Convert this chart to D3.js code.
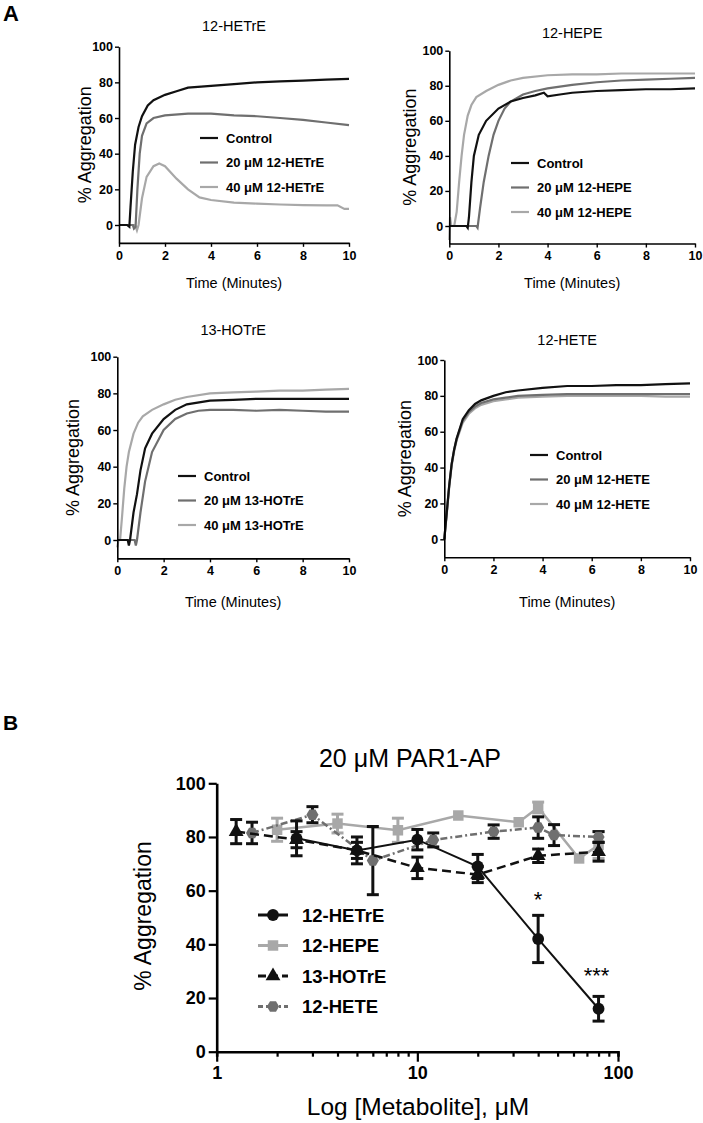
<!DOCTYPE html>
<html>
<head>
<meta charset="utf-8">
<script src="https://cdn.jsdelivr.net/npm/d3@7"></script>
<style>
  body { margin: 0; background: #fff; }
  text { font-family: "Liberation Sans", Arial, sans-serif; }
</style>
</head>
<body>
<script>
// ---- panel A: aggregation traces, [time (min), % aggregation] ----
var hetreControl = [[0,0],[0.35,0],[0.45,-1],[0.5,10],[0.6,30],[0.7,45],[0.85,55],[1,61],[1.25,67],[1.5,70],[2,73],[2.5,75],[3,77],[4,78],[5,79],[6,80],[7,80.5],[8,81],[9,81.5],[10,82]];
var hetre20 = [[0,0],[0.6,0],[0.65,-2],[0.72,-1],[0.8,20],[0.9,40],[1,50],[1.2,57],[1.5,60],[2,61.5],[3,62.5],[4,62.5],[5,61.5],[6,61],[7,60],[8,59],[9,57.5],[10,56]];
var hetre40 = [[0,0],[0.7,0],[0.78,-3],[0.85,0],[1,15],[1.2,27],[1.5,33],[1.75,34.5],[2,33],[2.5,26],[3,20],[3.5,15.5],[4,14],[5,12.5],[6,12],[7,11.5],[8,11.2],[9,11],[9.5,11],[9.8,9],[10,9]];

var hepeControl = [[0,0],[0.7,0],[0.75,-1],[0.8,5],[0.9,25],[1,40],[1.2,52],[1.5,60],[2,67],[2.5,71],[3,73],[3.5,74.5],[3.85,76],[4,74],[4.5,75],[5,76],[6,77],[7,77.5],[8,78],[9,78],[10,78.5]];
var hepe20 = [[0,0],[1.1,0],[1.15,-1],[1.25,10],[1.4,25],[1.6,40],[1.8,52],[2,60],[2.25,67],[2.5,71],[3,75],[3.5,77],[4,78.5],[5,80.5],[6,82],[7,83],[8,83.5],[9,84],[10,84.5]];
var hepe40 = [[0,-8],[0.03,5],[0.08,0],[0.2,0],[0.3,8],[0.4,25],[0.5,40],[0.6,52],[0.75,63],[0.9,69],[1.1,73.5],[1.5,77],[2,80.5],[2.5,83],[3,84.5],[4,86],[5,86.5],[6,86.5],[7,87],[8,87],[9,87],[10,87]];

var hotreControl = [[0,0],[0.45,0],[0.5,-3],[0.55,0],[0.7,15],[0.85,25],[1,38],[1.2,50],[1.5,58],[2,66],[2.5,71],[3,74],[4,76],[5,76.5],[6,77],[7,77],[8,77],[9,77],[10,77]];
var hotre20 = [[0,0],[0.75,0],[0.8,-3],[0.85,0],[1,15],[1.2,32],[1.5,48],[2,60],[2.5,66],[3,69],[3.5,70.5],[4,71],[5,71],[6,70.5],[7,71],[8,70.5],[9,70],[10,70]];
var hotre40 = [[0,-4],[0.05,0],[0.12,0],[0.2,12],[0.3,28],[0.4,40],[0.5,48],[0.7,58],[0.9,64],[1.1,67.5],[1.5,71],[2,74],[2.5,76.5],[3,78],[4,80],[5,80.5],[6,81],[7,81.5],[8,81.5],[9,82],[10,82.5]];

var heteControl = [[0,0],[0.1,15],[0.2,30],[0.3,42],[0.4,50],[0.5,56],[0.75,67],[1,72],[1.25,75.5],[1.5,77.5],[2,80],[2.5,82],[3,83],[4,84.5],[5,85.5],[6,85.5],[7,86],[8,86],[9,86.5],[10,87]];
var hete20 = [[0,0],[0.1,15],[0.2,30],[0.3,42],[0.4,50],[0.5,56],[0.75,66],[1,71],[1.25,74],[1.5,76],[2,78],[2.5,79],[3,80],[4,80.5],[5,81],[6,81],[7,81],[8,81],[9,81],[10,81]];
var hete40 = [[0,0],[0.1,14],[0.2,29],[0.3,41],[0.4,49],[0.5,55],[0.75,65],[1,70],[1.25,73],[1.5,75],[2,77],[2.5,78],[3,79],[4,79.5],[5,80],[6,80],[7,80],[8,80],[9,79.5],[10,79.5]];

var traceTicksX = [0, 2, 4, 6, 8, 10];
var traceTicksY = [0, 20, 40, 60, 80, 100];

// ---- panel B: dose response ----
var hetreDose = [2.5, 5, 10, 20, 40, 80];
var hetreMean = [79.5, 75, 79, 69, 42, 16];
var hetreErr  = [6.5, 5, 3.8, 4.5, 8.8, 4.6];

var hepeDose = [2, 4, 8, 16, 32, 40, 64, 80];
var hepeMean = [82.7, 85, 82.5, 88, 85.5, 91, 72, 77];
var hepeErr  = [4.3, 3.5, 4.5, 0, 0, 2, 0, 5];

var hotreDose = [1.25, 2.5, 5, 10, 20, 40, 80];
var hotreMean = [82, 79, 75, 68.5, 66, 73, 74.5];
var hotreErr  = [4.5, 3, 3, 4, 3, 2.5, 3.5];

var heteDose = [1.5, 3, 6, 12, 24, 40, 48, 80];
var heteMean = [81.5, 88.3, 71.2, 78.9, 82, 83.5, 80.7, 80];
var heteErr  = [4, 3, 12.7, 2.6, 2.5, 4, 3.9, 2];

var doseTicksY = [0, 20, 40, 60, 80, 100];
var doseLabelsX = [1, 10, 100];

var svg = d3.select('body').append('svg')
  .attr('width', 703)
  .attr('height', 1123);

var traceColors = ['#111', '#6f6f6f', '#a8a8a8'];

var tracePanels = [
  {title: '12-HETrE', series: [hetreControl, hetre20, hetre40], left: 119, right: 349, top: 46.7, zero: 225,
   titleY: 31, xLabelY: 288, yLabelX: 85, legX: 200, legY: 138},
  {title: '12-HEPE', series: [hepeControl, hepe20, hepe40], left: 449.3, right: 695, top: 50.7, zero: 226,
   titleY: 38, xLabelY: 288, yLabelX: 410, legX: 511, legY: 163},
  {title: '13-HOTrE', series: [hotreControl, hotre20, hotre40], left: 117.3, right: 349, top: 356.7, zero: 540,
   titleY: 335, xLabelY: 607, yLabelX: 73, legX: 178, legY: 476},
  {title: '12-HETE', series: [heteControl, hete20, hete40], left: 444.3, right: 690, top: 360, zero: 539.3,
   titleY: 345, xLabelY: 607, yLabelX: 405, legX: 530, legY: 455}
];

tracePanels.forEach(function(p){
  var bottom = p.zero + (p.zero - p.top) / 10;
  var x = d3.scaleLinear().domain([0, 10]).range([p.left, p.right]);
  var y = d3.scaleLinear().domain([-10, 100]).range([bottom, p.top]);
  var g = svg.append('g');

  var line = d3.line()
    .x(function(d){ return x(d[0]); })
    .y(function(d){ return y(d[1]); });

  // draw lightest first so control sits on top
  [2, 1, 0].forEach(function(i){
    g.append('path')
      .attr('d', line(p.series[i]))
      .attr('fill', 'none')
      .attr('stroke', traceColors[i])
      .attr('stroke-width', 2.2);
  });

  var xAxis = g.append('g')
    .attr('transform', 'translate(0,' + bottom + ')')
    .call(d3.axisBottom(x).tickValues(traceTicksX).tickSize(4).tickSizeOuter(0).tickPadding(4));
  var yAxis = g.append('g')
    .attr('transform', 'translate(' + p.left + ',0)')
    .call(d3.axisLeft(y).tickValues(traceTicksY).tickSize(4).tickSizeOuter(0).tickPadding(2));

  [xAxis, yAxis].forEach(function(a){
    a.select('.domain').attr('stroke', '#000').attr('stroke-width', 1.6);
    a.selectAll('.tick line').attr('stroke', '#000').attr('stroke-width', 1.4);
    a.selectAll('.tick text')
      .style('font-family', '"Liberation Sans", Arial, sans-serif')
      .style('font-size', '12.5px')
      .style('font-weight', 'bold')
      .attr('fill', '#000');
  });

  var mid = (p.left + p.right) / 2;
  g.append('text').attr('x', mid).attr('y', p.titleY)
    .attr('text-anchor', 'middle').style('font-size', '14.5px').text(p.title);
  g.append('text').attr('x', mid).attr('y', p.xLabelY)
    .attr('text-anchor', 'middle').style('font-size', '14.5px').text('Time (Minutes)');
  g.append('text')
    .attr('transform', 'translate(' + p.yLabelX + ',' + ((p.top + bottom) / 2) + ') rotate(-90)')
    .attr('text-anchor', 'middle').attr('dy', '0.35em')
    .style('font-size', '18px').text('% Aggregation');

  var names = ['Control', '20 \u03BCM ' + p.title, '40 \u03BCM ' + p.title];
  names.forEach(function(n, i){
    var ly = p.legY + i * 24.5;
    g.append('line')
      .attr('x1', p.legX).attr('x2', p.legX + 18)
      .attr('y1', ly).attr('y2', ly)
      .attr('stroke', traceColors[i]).attr('stroke-width', 2.2);
    g.append('text')
      .attr('x', p.legX + 26).attr('y', ly).attr('dy', '0.36em')
      .style('font-size', '13px').style('font-weight', 'bold')
      .text(n);
  });
});

svg.append('text').attr('x', 3).attr('y', 21)
  .style('font-size', '22px').style('font-weight', 'bold').text('A');
svg.append('text').attr('x', 3).attr('y', 730)
  .style('font-size', '21px').style('font-weight', 'bold').text('B');

// ---- panel B ----
var bx = d3.scaleLog().domain([1, 100]).range([216.7, 618]);
var by = d3.scaleLinear().domain([0, 100]).range([1051.7, 783.3]);

// small hexagon marker for 12-HETE
var symbolHexagon = {
  draw: function(context, size){
    var r = Math.sqrt(size / 2.598);
    for (var k = 0; k < 6; k++) {
      var a = Math.PI / 3 * k;
      if (k === 0) context.moveTo(r * Math.cos(a), r * Math.sin(a));
      else context.lineTo(r * Math.cos(a), r * Math.sin(a));
    }
    context.closePath();
  }
};

var doseSeries = [
  {name: '12-HEPE', dose: hepeDose, mean: hepeMean, err: hepeErr, color: '#a8a8a8', errColor: '#a8a8a8',
   dash: null, legendDash: null, width: 2.5, symbol: d3.symbolSquare, size: 110},
  {name: '12-HETE', dose: heteDose, mean: heteMean, err: heteErr, color: '#6f6f6f', errColor: '#111',
   dash: '7,3,2,3', legendDash: '5,3,2,3', width: 2.5, symbol: symbolHexagon, size: 95},
  {name: '13-HOTrE', dose: hotreDose, mean: hotreMean, err: hotreErr, color: '#111', errColor: '#111',
   dash: '9,5', legendDash: '8,4', width: 2.5, symbol: d3.symbolTriangle, size: 95},
  {name: '12-HETrE', dose: hetreDose, mean: hetreMean, err: hetreErr, color: '#111', errColor: '#111',
   dash: null, legendDash: null, width: 2, symbol: d3.symbolCircle, size: 110}
];

var bg = svg.append('g');

doseSeries.forEach(function(s){
  var pts = s.dose.map(function(d, i){ return {x: d, y: s.mean[i], e: s.err[i]}; });
  bg.append('path')
    .attr('d', d3.line().x(function(d){ return bx(d.x); }).y(function(d){ return by(d.y); })(pts))
    .attr('fill', 'none')
    .attr('stroke', s.color)
    .attr('stroke-width', s.width)
    .attr('stroke-dasharray', s.dash);

  var eb = bg.selectAll(null).data(pts.filter(function(d){ return d.e > 0; }))
    .enter().append('g')
    .attr('stroke', s.errColor).attr('stroke-width', 3);
  eb.append('line')
    .attr('x1', function(d){ return bx(d.x); }).attr('x2', function(d){ return bx(d.x); })
    .attr('y1', function(d){ return by(d.y - d.e); }).attr('y2', function(d){ return by(d.y + d.e); });
  [-1, 1].forEach(function(k){
    eb.append('line')
      .attr('x1', function(d){ return bx(d.x) - 6; }).attr('x2', function(d){ return bx(d.x) + 6; })
      .attr('y1', function(d){ return by(d.y + k * d.e); }).attr('y2', function(d){ return by(d.y + k * d.e); });
  });

  bg.selectAll(null).data(pts)
    .enter().append('path')
    .attr('d', d3.symbol().type(s.symbol).size(s.size))
    .attr('transform', function(d){ return 'translate(' + bx(d.x) + ',' + by(d.y) + ')'; })
    .attr('fill', s.color);
});

// axes
var bxAxis = bg.append('g')
  .attr('transform', 'translate(0,1051.7)')
  .call(d3.axisBottom(bx).tickValues(bx.ticks())
    .tickFormat(function(d){ return doseLabelsX.indexOf(d) >= 0 ? d : ''; })
    .tickSizeOuter(0).tickSize(5).tickPadding(10));
bxAxis.selectAll('.tick line')
  .attr('y2', function(d){ return doseLabelsX.indexOf(d) >= 0 ? 10 : 5; });

var byAxis = bg.append('g')
  .attr('transform', 'translate(216.7,0)')
  .call(d3.axisLeft(by).tickValues(doseTicksY).tickSize(8).tickSizeOuter(0).tickPadding(3));

[bxAxis, byAxis].forEach(function(a){
  a.select('.domain').attr('stroke', '#000').attr('stroke-width', 2.6);
  a.selectAll('.tick line').attr('stroke', '#000').attr('stroke-width', 2.2);
  a.selectAll('.tick text')
    .style('font-family', '"Liberation Sans", Arial, sans-serif')
    .style('font-size', '18px')
    .style('font-weight', 'bold')
    .attr('fill', '#000');
});

bg.append('text').attr('x', 410).attr('y', 767)
  .attr('text-anchor', 'middle').style('font-size', '25px').text('20 \u03BCM PAR1-AP');
bg.append('text').attr('x', 418).attr('y', 1115)
  .attr('text-anchor', 'middle').style('font-size', '24.5px').text('Log [Metabolite], \u03BCM');
bg.append('text')
  .attr('transform', 'translate(143,916) rotate(-90)')
  .attr('text-anchor', 'middle').attr('dy', '0.35em')
  .style('font-size', '23px').text('% Aggregation');

// significance marks
bg.append('text').attr('x', bx(40)).attr('y', 907)
  .attr('text-anchor', 'middle').style('font-size', '22px').text('*');
bg.append('text').attr('x', bx(80) - 2).attr('y', 983)
  .attr('text-anchor', 'middle').style('font-size', '22px').text('***');

// legend
var legendOrder = [doseSeries[3], doseSeries[0], doseSeries[2], doseSeries[1]];
legendOrder.forEach(function(s, i){
  var ly = 915 + i * 30.5;
  bg.append('line')
    .attr('x1', 258).attr('x2', 288).attr('y1', ly).attr('y2', ly)
    .attr('stroke', s.color).attr('stroke-width', 3)
    .attr('stroke-dasharray', s.legendDash);
  bg.append('path')
    .attr('d', d3.symbol().type(s.symbol).size(s.size))
    .attr('transform', 'translate(273,' + ly + ')')
    .attr('fill', s.color);
  bg.append('text')
    .attr('x', 302).attr('y', ly).attr('dy', '0.36em')
    .style('font-size', '18.5px').style('font-weight', 'bold')
    .text(s.name);
});
</script>
</body>
</html>
